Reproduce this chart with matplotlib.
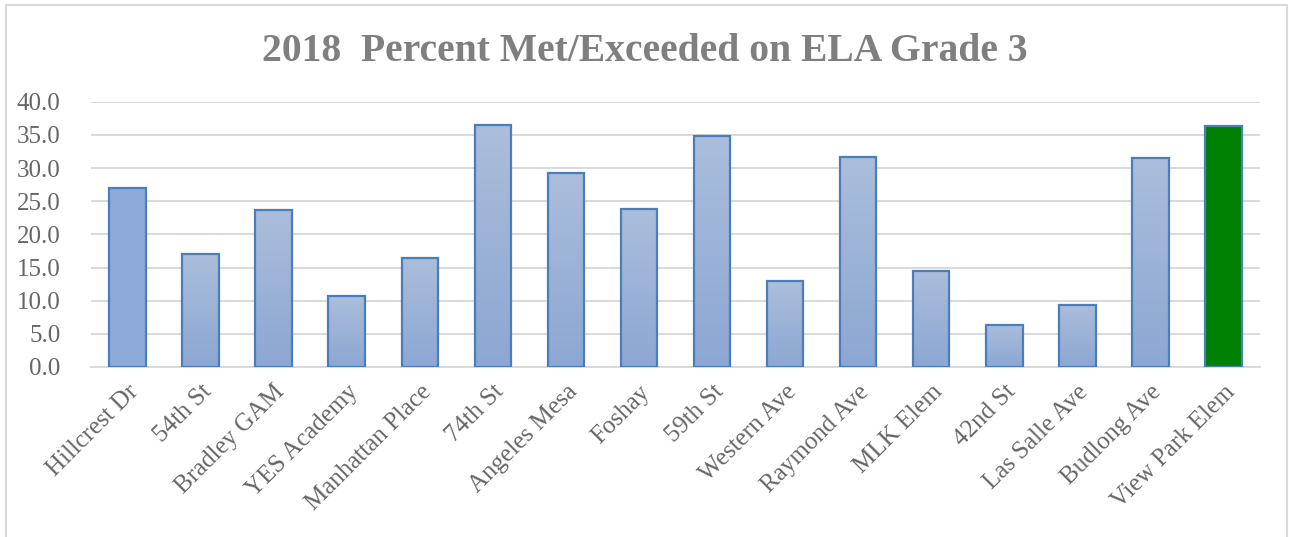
"""
plot.py

Bar chart of 2018 percent met/exceeded on ELA grade 3 by school.
"""
import numpy as np
import matplotlib
matplotlib.use('Agg')
import matplotlib.pyplot as plt
from matplotlib.colors import LinearSegmentedColormap
from matplotlib.patches import Rectangle

lstSchools = ['Hillcrest Dr', '54th St', 'Bradley GAM', 'YES Academy', 'Manhattan Place',
              '74th St', 'Angeles Mesa', 'Foshay', '59th St', 'Western Ave',
              'Raymond Ave', 'MLK Elem', '42nd St', 'Las Salle Ave', 'Budlong Ave',
              'View Park Elem']
lstPercent = [27.0, 17.0, 23.6, 10.7, 16.4, 36.5, 29.2, 23.8, 34.9, 12.9,
              31.7, 14.5, 6.4, 9.4, 31.5, 36.3]
lstYTicks = [0, 5, 10, 15, 20, 25, 30, 35, 40]

c_strFont = 'Liberation Serif'
c_strText = '#666666'
c_strGrid = '#D9D9D9'
c_strEdge = '#4A7EBB'


def main():
    fig = plt.figure(figsize=(12.89, 5.37), dpi=100)
    ax = fig.add_axes([0.0706, 0.3166, 0.9069, 0.494])

    x = np.arange(len(lstSchools))
    lstBars = ax.bar(x, lstPercent, width=0.5, color='none', edgecolor=c_strEdge,
                     linewidth=1.6, zorder=3)

    # first bar solid, last bar green, the rest with a vertical gradient
    lstBars[0].set_facecolor('#8EAADB')
    lstBars[-1].set_facecolor('#008000')
    cmapGrad = LinearSegmentedColormap.from_list('grad', ['#8CA7D3', '#ABBDDB'])
    arrGrad = np.linspace(0, 1, 256).reshape(-1, 1)
    for pBar in lstBars[1:-1]:
        x0 = pBar.get_x()
        im = ax.imshow(arrGrad, extent=[x0, x0 + pBar.get_width(), 0, pBar.get_height()],
                       origin='lower', cmap=cmapGrad, aspect='auto', zorder=2)
        im.set_clip_path(pBar)

    ax.set_xlim(-0.5, len(lstSchools) - 0.5)
    ax.set_ylim(0, 40)
    ax.set_yticks(lstYTicks)
    ax.set_yticklabels(['%.1f' % v for v in lstYTicks])
    ax.set_xticks(x)
    ax.set_xticklabels(lstSchools, rotation=45, ha='right', rotation_mode='anchor')

    ax.yaxis.grid(True, color=c_strGrid, linewidth=1.4, zorder=0)
    ax.set_axisbelow(True)
    for strSpine in ['top', 'right', 'left']:
        ax.spines[strSpine].set_visible(False)
    ax.spines['bottom'].set_color(c_strGrid)
    ax.spines['bottom'].set_linewidth(1.4)
    ax.tick_params(axis='both', length=0, labelsize=18, labelcolor=c_strText)
    ax.tick_params(axis='y', pad=22)
    ax.tick_params(axis='x', pad=10)
    for lbl in ax.get_xticklabels() + ax.get_yticklabels():
        lbl.set_fontfamily(c_strFont)

    fig.text(0.5, 0.905, '2018  Percent Met/Exceeded on ELA Grade 3', ha='center', va='center',
             fontsize=28.5, fontweight='bold', color='#7F7F7F', family=c_strFont)

    # light frame around the chart area
    fig.patches.append(Rectangle((6 / 1289, -0.05), 1281 / 1289, 1.04, transform=fig.transFigure,
                                 fill=False, edgecolor=c_strGrid, linewidth=1.5, figure=fig))

    fig.savefig('out.png', dpi=100)


if __name__ == '__main__':
    main()
